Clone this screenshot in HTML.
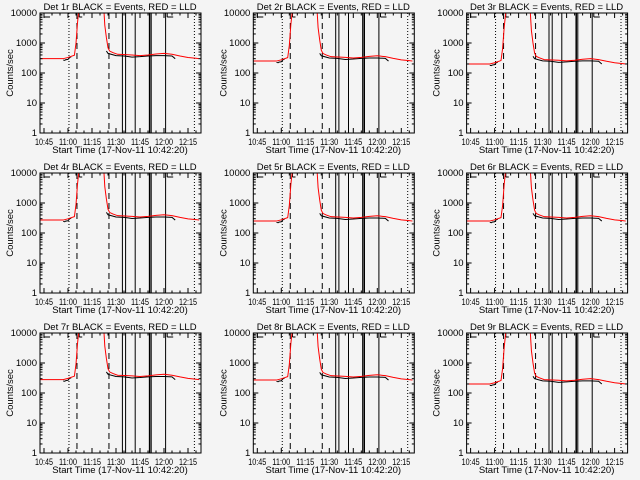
<!DOCTYPE html>
<html><head><meta charset="utf-8"><style>
body{margin:0;background:#f4f4f4;}
svg{display:block;font-family:"Liberation Sans",sans-serif;}
text{fill:#000;font-size:9.5px;}
</style></head><body>
<svg id="c" width="640" height="480"></svg>
<script>
// minutes after 10:45 ; counts/sec (relative to baseline)
const redTimes=[-2.5,12,15,19,20,21,21.5,22.5,37,38,39,40,41,43,46,55,60,65,70,75,80,85,90,95,97];
const redShape=[1,1,1.1,1.3,3.3,17,30,100,100,13,5,2.3,1.8,1.6,1.4,1.33,1.27,1.33,1.43,1.5,1.4,1.23,1.1,1.03,1];
const blackTimesA=[12,13,13.5,15,16,17];
const blackShapeA=[0.9,0.88,0.92,0.95,1.1,1.15];
const blackTimesB=[39,40,45,50,55,60,65,70,75,80,82];
const blackShapeB=[1.8,1.5,1.27,1.23,1.13,1.17,1.23,1.27,1.27,1.23,1.0];
const baselines=[300,250,200,270,250,250,280,270,200];
const detLabels=["1r","2r","3r","4r","5r","6r","7r","8r","9r"];
const xTickLabels=["10:45","11:00","11:15","11:30","11:45","12:00","12:15"];
const xTickMins=[0,15,30,45,60,75,90];
const yTickVals=[1,10,100,1000,10000];
const solidLines=[49,51,57,66,67,76];
const dashedLines=[20.6,40.6];
const dottedLines=[15.6,94];
const NS="http://www.w3.org/2000/svg";
const svg=document.getElementById('c');
function mk(t,a,p){const e=document.createElementNS(NS,t);for(const k in a)e.setAttribute(k,a[k]);(p||svg).appendChild(e);return e;}
for(let i=0;i<9;i++){
  const ox=(i%3)*213.3, oy=Math.floor(i/3)*160;
  const g=mk('g',{transform:`translate(${ox},${oy})`});
  
  
  const L=40,R=201,T=13,B=133;
  const X=t=>44+1.6*t;
  const Y=v=>{v=Math.max(1,Math.min(v,100000));return B-30*Math.log10(v);};
  const ttl=mk('text',{x:120,y:10,'text-anchor':'middle'},g);ttl.textContent=`Det ${detLabels[i]} BLACK = Events, RED = LLD`;
  
  
  const yl=mk('text',{x:0,y:0,'text-anchor':'middle',transform:`translate(13,73) rotate(-90)`,'font-size':'8px'},g);yl.textContent='Counts/sec';
  
  
  const xl=mk('text',{x:120,y:153,'text-anchor':'middle'},g);xl.textContent='Start Time (17-Nov-11 10:42:20)';
  
  
  const cp='cp'+i;const d=mk('clipPath',{id:cp},g);mk('rect',{x:L,y:T,width:R-L,height:B-T},d);
  const inner=mk('g',{'clip-path':`url(#${cp})`},g);
  dottedLines.forEach(t=>mk('line',{x1:X(t),x2:X(t),y1:T,y2:B,stroke:'#000','stroke-dasharray':'1,2'},inner));
  dashedLines.forEach(t=>mk('line',{x1:X(t),x2:X(t),y1:T,y2:B,stroke:'#000','stroke-dasharray':'6,4'},inner));
  solidLines.forEach(t=>mk('line',{x1:X(t),x2:X(t),y1:T,y2:B,stroke:'#000','stroke-width':(t==66?1.5:1)},inner));
  [[0,6],[22,3],[77,6]].forEach(([t,w])=>mk('path',{d:`M${X(t)},${T+4}h${w}M${X(t)},${T}v4`,stroke:'#000',fill:'none'},inner));
  const base=baselines[i];
  let bp='';blackTimesA.forEach((t,k)=>{bp+=(k?'L':'M')+X(t)+','+Y(base*blackShapeA[k]);});
  blackTimesB.forEach((t,k)=>{bp+=(k?'L':'M')+X(t)+','+Y(base*blackShapeB[k]);});
  const bl=mk('path',{d:bp,stroke:'#000',fill:'none'},inner);
  
  
  let rp='';redTimes.forEach((t,k)=>{rp+=(k?'L':'M')+X(t)+','+Y(base*redShape[k]);});
  const rl=mk('path',{d:rp,stroke:'#f00',fill:'none'},inner);
  
  
  mk('rect',{x:L,y:T,width:R-L,height:B-T,fill:'none',stroke:'#000'},g);
  yTickVals.forEach(v=>{const y=Y(v);mk('line',{x1:L,x2:L+5,y1:y,y2:y,stroke:'#000'},g);mk('line',{x1:R-5,x2:R,y1:y,y2:y,stroke:'#000'},g);
    const tx=mk('text',{x:L-3,y:y+3,'text-anchor':'end','font-size':'8px'},g);tx.textContent=String(v);
    
    
    if(v<10000)for(let m=2;m<10;m++){const ym=Y(v*m);mk('line',{x1:L,x2:L+2.5,y1:ym,y2:ym,stroke:'#000'},g);mk('line',{x1:R-2.5,x2:R,y1:ym,y2:ym,stroke:'#000'},g);}});
  xTickMins.forEach((t,k)=>{const x=X(t);mk('line',{x1:x,x2:x,y1:B,y2:B-5,stroke:'#000'},g);mk('line',{x1:x,x2:x,y1:T,y2:T+5,stroke:'#000'},g);
    const tx=mk('text',{x:x-9,y:145,'font-size':'9px',textLength:18,lengthAdjust:'spacingAndGlyphs'},g);tx.textContent=xTickLabels[k];
    
    
    for(let m=5;m<15;m+=5){const xm=X(t+m);if(xm<R){mk('line',{x1:xm,x2:xm,y1:B,y2:B-2.5,stroke:'#000'},g);mk('line',{x1:xm,x2:xm,y1:T,y2:T+2.5,stroke:'#000'},g);}}});
}
</script>
</body></html>
